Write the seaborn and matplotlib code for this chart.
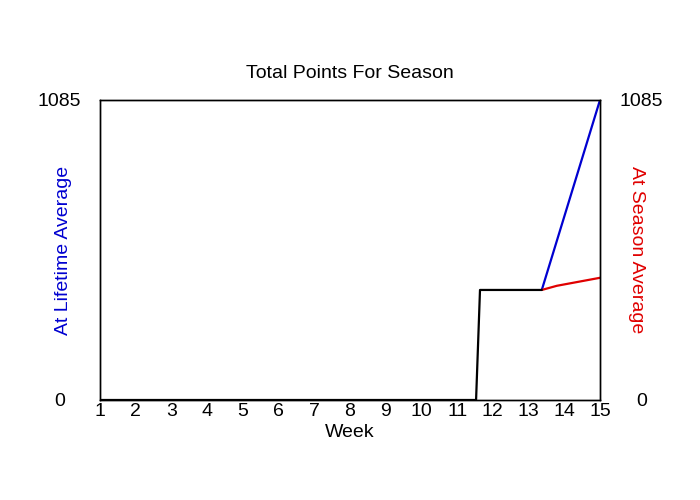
import matplotlib
matplotlib.use('Agg')
import matplotlib.pyplot as plt
import seaborn as sns

# values
weeks_total = [1, 11.53, 11.64, 13.37]
points_total = [0, 0, 398, 398]
weeks_lifetime = [13.37, 15]
points_lifetime = [398, 1085]
weeks_season = [13.37, 13.79, 15]
points_season = [398, 413, 442]
week_ticks = list(range(1, 16))
y_max = 1085

sns.set_style('white')
plt.rcParams['font.family'] = ['Liberation Sans', 'DejaVu Sans']
plt.rcParams['text.color'] = 'black'
plt.rcParams['axes.labelcolor'] = 'black'
plt.rcParams['xtick.color'] = 'black'
plt.rcParams['ytick.color'] = 'black'

BLUE = '#0000d0'
RED = '#e00000'
FS = 14

fig = plt.figure(figsize=(7, 5), dpi=100)
ax = fig.add_axes([100 / 700, 100 / 500, 500 / 700, 300 / 500])

sns.lineplot(x=weeks_lifetime, y=points_lifetime, ax=ax, color=BLUE, linewidth=1.6)
sns.lineplot(x=weeks_season, y=points_season, ax=ax, color=RED, linewidth=1.6)
sns.lineplot(x=weeks_total, y=points_total, ax=ax, color='black', linewidth=1.6)

ax.set_xlim(1, 15)
ax.set_ylim(0, y_max)
ax.set_xticks(week_ticks)
ax.set_xticklabels([str(w) for w in week_ticks], fontsize=FS)
ax.set_yticks([0, y_max])
ax.set_yticklabels(['0', str(y_max)], fontsize=FS, ha='center')
ax.tick_params(axis='x', length=0, pad=2)
ax.tick_params(axis='y', length=0, pad=29)
for s in ax.spines.values():
    s.set_color('black')
    s.set_linewidth(1)

ax.set_xlabel('Week', fontsize=FS, labelpad=3)
ax.set_ylabel('At Lifetime Average', fontsize=FS, color=BLUE, va='center')
ax.yaxis.set_label_coords(-37 / 500, 0.5)
ax.set_title('Total Points For Season', fontsize=FS, pad=16)

ax2 = ax.twinx()
ax2.set_ylim(0, y_max)
ax2.set_yticks([0, y_max])
ax2.set_yticklabels(['0', str(y_max)], fontsize=FS, ha='center')
ax2.tick_params(axis='y', length=0, pad=30)
ax2.set_ylabel('At Season Average', fontsize=FS, color=RED, rotation=270, va='center')
ax2.yaxis.set_label_coords(1 + 36 / 500, 0.5)
for s in ax2.spines.values():
    s.set_color('black')
    s.set_linewidth(1)

fig.savefig('out.png', dpi=100)
